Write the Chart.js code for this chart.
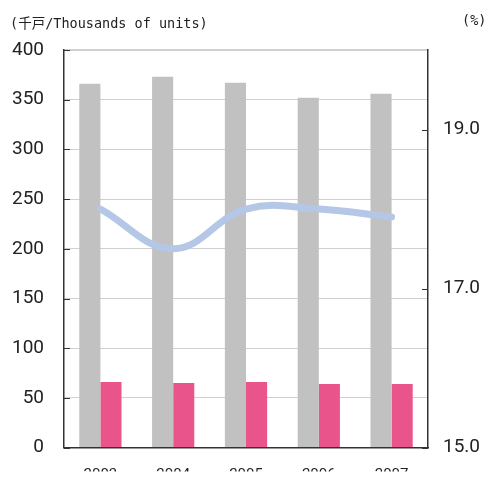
<!DOCTYPE html>
<html>
<head>
<meta charset="utf-8">
<script src="https://cdn.jsdelivr.net/npm/chart.js@4/dist/chart.umd.min.js"></script>
<style>
  html, body { margin: 0; padding: 0; background: #fff; overflow: hidden; }
  #wrap { position: relative; width: 486px; height: 479px; overflow: hidden; }
  #chart { display: block; }
  .unit { position: absolute; top: 12px; font: 13.5px "DejaVu Sans Mono", "Noto Sans CJK JP", monospace; color: #222; white-space: nowrap; }
</style>
</head>
<body>
<div id="wrap">
  <canvas id="chart" width="486" height="479"></canvas>
  <div class="unit" style="left:10px">(千戸/Thousands of units)</div>
  <div class="unit" style="left:462px">(%)</div>
</div>
<script>
const years = ["2003", "2004", "2005", "2006", "2007"];
const grayValues = [366, 373, 367, 352, 356];
const pinkValues = [66, 65, 66, 64, 64];
const rateValues = [18.0, 17.5, 18.0, 18.0, 17.9];
const leftTicks = [0, 50, 100, 150, 200, 250, 300, 350, 400];
const rightTicks = [15.0, 17.0, 19.0];

const DARK = "#333";
const GRID = "#d0d0d0";

// short tick marks drawn inward from the axis lines
const innerTicks = {
  id: "innerTicks",
  afterDatasetsDraw(chart) {
    const c = chart.ctx;
    const y = chart.scales.y;
    const y1 = chart.scales.y1;
    c.save();
    c.strokeStyle = DARK;
    c.lineWidth = 1;
    leftTicks.forEach((v) => {
      const py = Math.round(y.getPixelForValue(v)) + 0.5;
      c.beginPath();
      c.moveTo(y.right, py);
      c.lineTo(y.right + 6, py);
      c.stroke();
    });
    rightTicks.forEach((v) => {
      const py = Math.round(y1.getPixelForValue(v)) + 0.5;
      c.beginPath();
      c.moveTo(y1.left - 6, py);
      c.lineTo(y1.left, py);
      c.stroke();
    });
    c.restore();
  },
};

new Chart(document.getElementById("chart"), {
  data: {
    labels: years,
    datasets: [
      {
        type: "line",
        data: rateValues,
        yAxisID: "y1",
        borderColor: "#b4c7e7",
        borderWidth: 7,
        borderCapStyle: "round",
        tension: 0.4,
        pointRadius: 0,
        order: 0,
      },
      {
        type: "bar",
        data: grayValues,
        yAxisID: "y",
        backgroundColor: "#c1c1c1",
        categoryPercentage: 0.58,
        barPercentage: 1,
        order: 1,
      },
      {
        type: "bar",
        data: pinkValues,
        yAxisID: "y",
        backgroundColor: "#e9558b",
        categoryPercentage: 0.58,
        barPercentage: 1,
        order: 1,
      },
    ],
  },
  options: {
    responsive: false,
    animation: false,
    layout: { padding: { top: 50, left: 0, right: 0, bottom: 0 } },
    plugins: { legend: { display: false }, tooltip: { enabled: false } },
    scales: {
      x: {
        grid: { display: false },
        border: { display: true, color: DARK, width: 1.5 },
        ticks: { color: "#222", font: { family: "Roboto", size: 15 }, padding: 11 },
        afterFit: (s) => { s.height = 24; },
      },
      y: {
        position: "left",
        min: 0,
        max: 400,
        afterBuildTicks: (s) => { s.ticks = leftTicks.map((v) => ({ value: v })); },
        grid: {
          color: GRID,
          lineWidth: (ctx) => (ctx.tick && ctx.tick.value === 400 ? 2 : 1),
          drawTicks: false,
        },
        border: { display: true, color: DARK, width: 1.5 },
        ticks: { color: "#222", font: { family: "Roboto", size: 19 }, padding: 20 },
        afterFit: (s) => { s.width = 64; },
      },
      y1: {
        position: "right",
        min: 15,
        max: 20,
        afterBuildTicks: (s) => { s.ticks = rightTicks.map((v) => ({ value: v })); },
        grid: { display: false, drawTicks: false },
        border: { display: true, color: DARK, width: 1.5 },
        ticks: {
          color: "#222",
          font: { family: "Roboto", size: 19 },
          padding: 15,
          callback: (v) => Number(v).toFixed(1),
        },
        afterFit: (s) => { s.width = 58; },
      },
    },
  },
  plugins: [innerTicks],
});
</script>
</body>
</html>
